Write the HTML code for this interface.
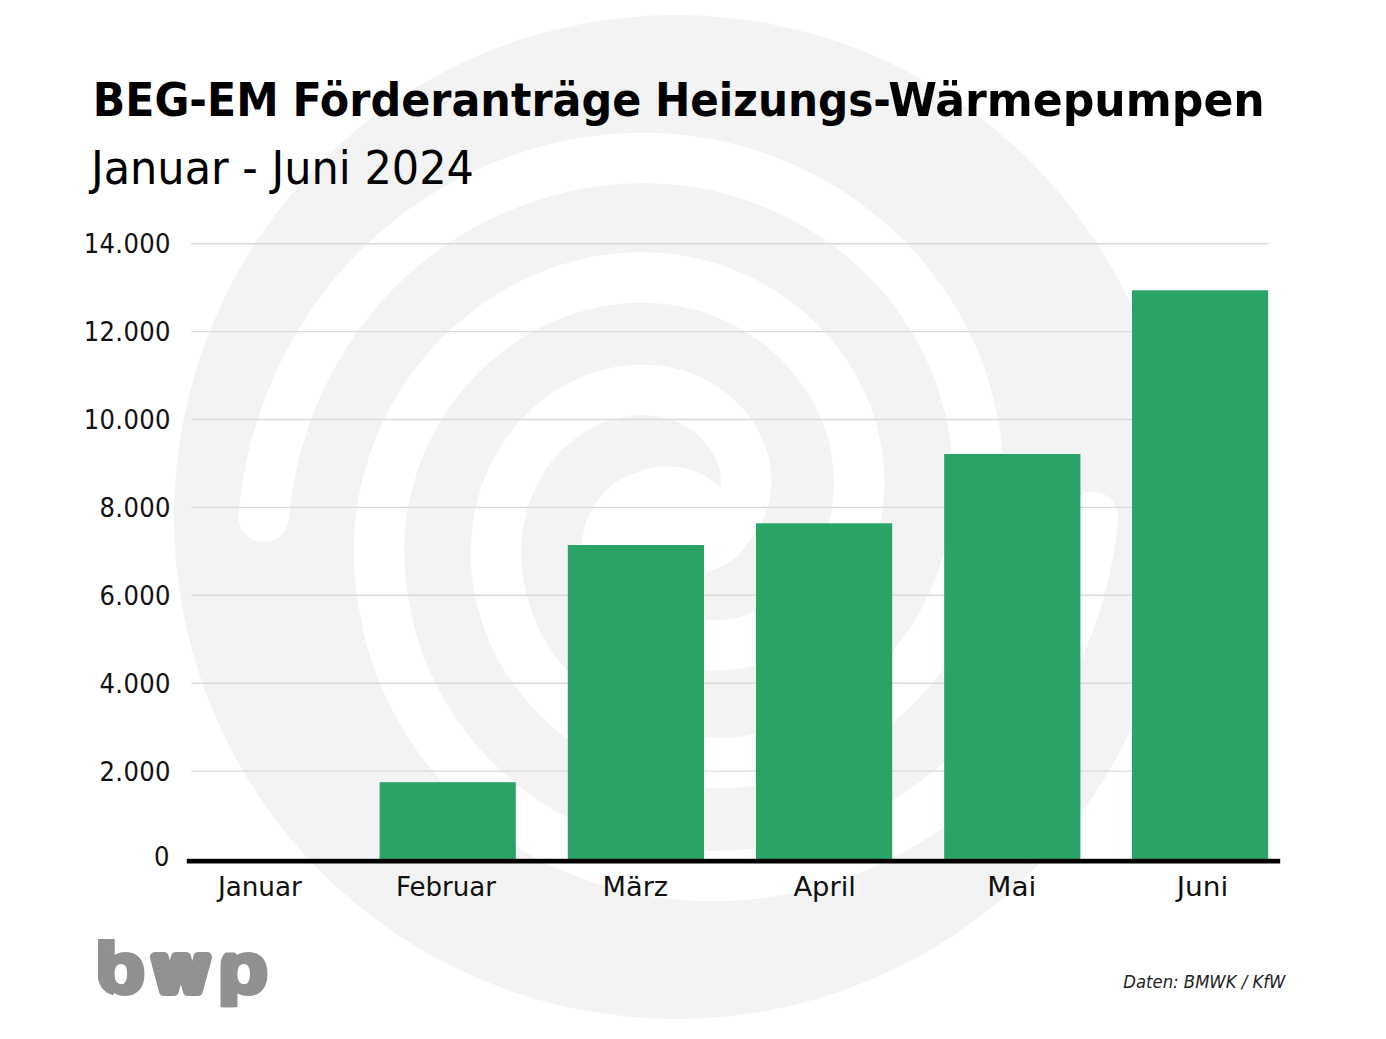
<!DOCTYPE html>
<html lang="de">
<head>
<meta charset="utf-8">
<title>BEG-EM Förderanträge Heizungs-Wärmepumpen</title>
<style>
html,body{margin:0;padding:0;background:#fff;}
body{width:1386px;height:1039px;overflow:hidden;font-family:'DejaVu Sans Condensed', 'Liberation Sans', sans-serif;}
svg{display:block;}
</style>
</head>
<body>
<svg width="1386" height="1039" viewBox="0 0 1386 1039">
<defs><clipPath id="logoclip"><path d="M97.6,939 H146 V996.2 H119 A21.4,21.4 0 0 1 97.6,974.8 Z"/><path d="M149,945 H214 V980 A16.2,16.2 0 0 1 197.8,996.2 H165.2 A16.2,16.2 0 0 1 149,980 Z"/><path d="M241.5,945 H270 V1007.3 H220.2 V966.3 A21.3,21.3 0 0 1 241.5,945 Z"/></clipPath></defs>
<rect width="1386" height="1039" fill="#fff"/>
<circle cx="676.0" cy="517.0" r="502.0" fill="#f3f3f3"/>
<g fill="none" stroke="#fff" stroke-width="50.5" stroke-linecap="round" stroke-linejoin="round">
<path d="M676.0,517.0 L676.0,518.0 L676.1,519.0 L676.2,520.0 L676.4,521.0 L676.7,522.0 L676.9,522.9 L677.3,523.9 L677.7,524.8 L678.1,525.8 L678.6,526.7 L679.1,527.5 L679.7,528.4 L680.3,529.3 L681.0,530.1 L681.7,530.9 L682.5,531.6 L683.3,532.3 L684.2,533.0 L685.1,533.7 L686.0,534.3 L687.0,534.9 L688.0,535.5 L689.0,536.0 L690.1,536.4 L691.2,536.8 L692.4,537.2 L693.5,537.5 L694.7,537.8 L696.0,538.0 L697.2,538.2 L698.5,538.3 L699.8,538.4 L701.1,538.4 L702.4,538.4 L703.8,538.3 L705.1,538.2 L706.5,538.0 L707.9,537.7 L709.3,537.4 L710.6,537.0 L712.0,536.6 L713.4,536.1 L714.8,535.5 L716.2,534.9 L717.6,534.2 L718.9,533.5 L720.3,532.7 L721.7,531.8 L723.0,530.9 L724.3,529.9 L725.6,528.9 L726.9,527.8 L728.1,526.7 L729.3,525.4 L730.5,524.2 L731.7,522.9 L732.8,521.5 L733.9,520.0 L735.0,518.5 L736.0,517.0 L737.0,515.4 L738.0,513.8 L738.9,512.0 L739.8,510.3 L740.7,508.5 L741.4,506.6 L742.2,504.7 L742.8,502.8 L743.5,500.8 L744.0,498.8 L744.5,496.7 L745.0,494.6 L745.3,492.5 L745.6,490.3 L745.9,488.1 L746.0,485.8 L746.1,483.5 L746.2,481.2 L746.1,478.9 L746.0,476.6 L745.8,474.2 L745.5,471.8 L745.2,469.4 L744.8,467.0 L744.3,464.6 L743.7,462.2 L743.0,459.8 L742.3,457.3 L741.4,454.9 L740.5,452.5 L739.5,450.1 L738.5,447.6 L737.3,445.2 L736.0,442.8 L734.7,440.5 L733.3,438.1 L731.8,435.8 L730.2,433.5 L728.6,431.2 L726.8,429.0 L725.0,426.7 L723.1,424.6 L721.1,422.4 L719.0,420.3 L716.9,418.3 L714.7,416.3 L712.4,414.3 L710.0,412.4 L707.5,410.5 L705.0,408.7 L702.4,407.0 L699.7,405.3 L697.0,403.7 L694.2,402.2 L691.3,400.7 L688.4,399.3 L685.4,398.0 L682.3,396.7 L679.2,395.6 L676.0,394.5 L672.8,393.6 L669.5,392.9 L666.2,392.2 L662.8,391.6 L659.4,391.1 L656.0,390.7 L652.5,390.4 L649.0,390.1 L645.5,390.0 L642.0,390.0 L638.4,390.1 L634.8,390.2 L631.2,390.5 L627.6,390.9 L624.0,391.4 L620.3,391.9 L616.7,392.6 L613.0,393.4 L609.4,394.3 L605.8,395.3 L602.1,396.4 L598.5,397.7 L594.9,399.0 L591.3,400.4 L587.7,402.0 L584.2,403.6 L580.7,405.4 L577.2,407.2 L573.7,409.2 L570.3,411.3 L566.9,413.5 L563.6,415.8 L560.3,418.2 L557.0,420.7 L553.8,423.3 L550.7,426.0 L547.6,428.8 L544.6,431.7 L541.6,434.7 L538.7,437.8 L535.9,440.9 L533.2,444.2 L530.5,447.6 L527.9,451.1 L525.4,454.6 L523.0,458.3 L520.7,462.0 L518.4,465.8 L516.3,469.7 L514.2,473.6 L512.3,477.7 L510.4,481.8 L508.7,486.0 L507.0,490.2 L505.5,494.5 L504.0,498.9 L502.7,503.4 L501.5,507.9 L500.5,512.4 L499.5,517.0 L498.6,521.6 L497.8,526.3 L497.2,531.1 L496.7,535.8 L496.3,540.7 L496.0,545.5 L495.9,550.4 L495.9,555.3 L496.0,560.2 L496.3,565.1 L496.7,570.1 L497.3,575.1 L497.9,580.1 L498.8,585.0 L499.7,590.0 L500.8,595.0 L502.0,600.0 L503.3,605.0 L504.7,610.0 L506.3,615.0 L508.0,620.0 L509.8,624.9 L511.8,629.9 L513.9,634.8 L516.2,639.6 L518.6,644.5 L521.2,649.2 L523.9,654.0 L526.7,658.7 L529.7,663.3 L532.8,667.9 L536.1,672.4 L539.5,676.8 L543.1,681.2 L546.8,685.4 L550.6,689.6 L554.5,693.9 L558.5,698.0 L562.6,702.0 L566.9,705.9 L571.3,709.8 L575.9,713.5 L580.5,717.1 L585.3,720.7 L590.2,724.1 L595.3,727.4 L600.4,730.5 L605.6,733.6 L611.0,736.5 L616.5,739.2 L622.0,741.9 L627.7,744.4 L633.4,746.7 L639.3,749.0 L645.2,751.0 L651.2,752.9 L657.3,754.7 L663.5,756.3 L669.7,757.7 L676.0,759.0 L682.4,760.1 L688.8,761.0 L695.3,761.8 L701.8,762.4 L708.4,762.8 L715.0,763.1 L721.6,763.1 L728.3,763.0 L734.9,762.5 L741.6,761.8 L748.2,760.9 L754.9,759.8 L761.5,758.6 L768.2,757.1 L774.8,755.5 L781.4,753.7 L787.9,751.7 L794.5,749.5 L801.0,747.2 L807.4,744.6 L813.8,741.9 L820.2,739.0 L826.5,735.9 L832.7,732.7 L838.9,729.2 L844.9,725.6 L851.0,721.8 L856.9,717.9 L862.7,713.8 L868.5,709.5 L874.1,705.0 L879.7,700.4 L885.1,695.6 L890.5,690.7 L895.7,685.6 L900.8,680.3 L905.7,674.9 L910.6,669.3 L915.3,663.6 L919.9,657.8 L924.3,651.8 L928.6,645.7 L932.7,639.4 L936.7,633.1 L940.5,626.5 L944.1,619.9 L947.6,613.2 L950.9,606.3 L954.1,599.4 L957.0,592.3 L959.8,585.1 L962.4,577.9 L964.8,570.5 L967.1,563.1 L969.1,555.6 L971.0,548.0 L972.6,540.3 L974.0,532.6 L975.3,524.8 L976.3,517.0 L977.2,509.1 L977.8,501.2 L978.2,493.2 L978.4,485.2 L978.4,477.2 L978.2,469.1 L977.8,461.1 L977.1,453.0 L976.3,444.9 L975.3,436.8 L974.0,428.7 L972.5,420.6 L970.8,412.6 L968.9,404.6 L966.8,396.6 L964.4,388.6 L961.9,380.6 L959.1,372.8 L956.1,364.9 L952.8,357.2 L949.4,349.5 L945.7,341.8 L941.9,334.3 L937.8,326.8 L933.5,319.4 L929.0,312.1 L924.3,304.9 L919.4,297.8 L914.3,290.9 L909.0,284.0 L903.5,277.3 L897.7,270.7 L891.8,264.3 L885.7,258.0 L879.4,251.9 L873.0,245.9 L866.3,240.0 L859.5,234.4 L852.6,228.9 L845.4,223.5 L838.1,218.4 L830.7,213.4 L823.1,208.6 L815.4,204.0 L807.5,199.6 L799.5,195.4 L791.3,191.4 L783.0,187.6 L774.6,184.0 L766.1,180.6 L757.5,177.5 L748.8,174.5 L740.0,171.8 L731.1,169.4 L722.1,167.1 L713.0,165.1 L703.8,163.3 L694.6,161.8 L685.3,160.5 L676.0,159.4 L666.6,158.7 L657.2,158.2 L647.7,157.9 L638.3,157.9 L628.8,158.2 L619.3,158.7 L609.7,159.5 L600.2,160.5 L590.7,161.8 L581.2,163.3 L571.8,165.1 L562.3,167.1 L552.9,169.4 L543.5,171.9 L534.2,174.7 L525.0,177.8 L515.8,181.0 L506.6,184.5 L497.5,188.2 L488.5,192.2 L479.5,196.4 L470.7,200.8 L461.9,205.5 L453.3,210.5 L444.7,215.6 L436.3,221.0 L428.1,226.7 L419.9,232.6 L411.9,238.7 L404.0,245.0 L396.3,251.6 L388.7,258.3 L381.3,265.3 L374.1,272.5 L367.0,279.9 L360.2,287.5 L353.5,295.4 L347.1,303.4 L340.8,311.6 L334.7,320.0 L328.9,328.5 L323.3,337.3 L317.9,346.2 L312.7,355.2 L307.7,364.5 L303.0,373.8 L298.5,383.3 L294.3,393.0 L290.3,402.8 L286.6,412.7 L283.1,422.7 L279.9,432.8 L276.9,443.0 L274.2,453.4 L271.8,463.8 L269.6,474.3 L267.7,484.9 L266.1,495.5 L264.8,506.2 L263.7,517.0"/>
<path d="M676.0,517.0 L676.0,516.0 L675.9,515.0 L675.8,514.1 L675.6,513.1 L675.4,512.1 L675.1,511.2 L674.7,510.2 L674.4,509.3 L673.9,508.4 L673.5,507.5 L672.9,506.6 L672.4,505.8 L671.7,504.9 L671.1,504.1 L670.4,503.4 L669.6,502.6 L668.8,501.9 L668.0,501.2 L667.1,500.6 L666.2,500.0 L665.2,499.4 L664.2,498.9 L663.2,498.4 L662.1,497.9 L661.0,497.5 L659.9,497.1 L658.8,496.8 L657.6,496.5 L656.4,496.3 L655.1,496.1 L653.9,496.0 L652.6,495.9 L651.3,495.9 L650.0,496.0 L648.7,496.0 L647.4,496.2 L646.0,496.4 L644.7,496.6 L643.3,497.0 L641.9,497.3 L640.6,497.8 L639.2,498.3 L637.8,498.8 L636.5,499.4 L635.1,500.1 L633.8,500.8 L632.4,501.6 L631.1,502.4 L629.8,503.3 L628.5,504.3 L627.2,505.3 L626.0,506.4 L624.8,507.5 L623.6,508.7 L622.4,509.9 L621.2,511.2 L620.1,512.6 L619.0,514.0 L618.0,515.5 L617.0,517.0 L616.0,518.6 L615.0,520.2 L614.0,521.9 L613.1,523.6 L612.3,525.4 L611.5,527.2 L610.7,529.1 L610.0,531.0 L609.4,533.0 L608.8,535.0 L608.3,537.1 L607.8,539.1 L607.4,541.3 L607.1,543.4 L606.9,545.6 L606.7,547.9 L606.5,550.1 L606.5,552.4 L606.5,554.7 L606.6,557.1 L606.8,559.4 L607.0,561.8 L607.4,564.2 L607.8,566.6 L608.2,569.0 L608.8,571.4 L609.4,573.8 L610.2,576.3 L611.0,578.7 L611.9,581.1 L612.8,583.6 L613.9,586.0 L615.0,588.4 L616.3,590.8 L617.6,593.1 L619.0,595.5 L620.4,597.8 L622.0,600.1 L623.6,602.4 L625.4,604.7 L627.2,606.9 L629.1,609.1 L631.0,611.2 L633.1,613.4 L635.2,615.4 L637.4,617.4 L639.7,619.4 L642.1,621.3 L644.5,623.2 L647.1,625.0 L649.7,626.8 L652.3,628.4 L655.0,630.1 L657.8,631.6 L660.7,633.1 L663.6,634.5 L666.6,635.8 L669.7,637.1 L672.8,638.3 L676.0,639.4 L679.2,640.4 L682.5,641.3 L685.9,642.2 L689.2,642.9 L692.7,643.6 L696.1,644.1 L699.6,644.6 L703.2,645.0 L706.8,645.2 L710.4,645.4 L714.1,645.5 L717.7,645.4 L721.4,645.3 L725.2,645.1 L728.9,644.7 L732.6,644.2 L736.3,643.5 L740.0,642.7 L743.7,641.8 L747.4,640.7 L751.1,639.6 L754.8,638.4 L758.5,637.0 L762.2,635.6 L765.8,634.0 L769.4,632.3 L773.0,630.6 L776.6,628.7 L780.1,626.7 L783.6,624.6 L787.0,622.3 L790.4,620.0 L793.8,617.6 L797.1,615.1 L800.3,612.4 L803.5,609.7 L806.7,606.8 L809.8,603.9 L812.8,600.8 L815.7,597.7 L818.6,594.4 L821.4,591.1 L824.1,587.7 L826.8,584.1 L829.3,580.5 L831.8,576.8 L834.2,573.0 L836.5,569.1 L838.7,565.2 L840.8,561.1 L842.8,557.0 L844.7,552.8 L846.4,548.6 L848.1,544.3 L849.7,539.9 L851.2,535.4 L852.5,530.9 L853.7,526.3 L854.8,521.7 L855.8,517.0 L856.7,512.3 L857.4,507.5 L858.0,502.7 L858.5,497.8 L858.8,492.9 L859.1,488.0 L859.2,483.1 L859.1,478.1 L858.9,473.1 L858.6,468.1 L858.1,463.0 L857.5,458.0 L856.8,453.0 L855.9,447.9 L854.9,442.9 L853.8,437.9 L852.5,432.8 L851.0,427.8 L849.4,422.8 L847.7,417.9 L845.8,412.9 L843.8,408.0 L841.7,403.1 L839.4,398.3 L837.0,393.5 L834.4,388.7 L831.7,384.0 L828.8,379.4 L825.8,374.8 L822.7,370.3 L819.5,365.8 L816.2,361.3 L812.7,357.0 L809.1,352.7 L805.3,348.5 L801.4,344.4 L797.4,340.3 L793.3,336.4 L789.0,332.5 L784.7,328.8 L780.2,325.1 L775.6,321.6 L770.8,318.2 L766.0,314.9 L761.1,311.7 L756.0,308.6 L750.8,305.6 L745.6,302.8 L740.2,300.1 L734.8,297.6 L729.3,295.2 L723.6,292.9 L717.9,290.7 L712.2,288.7 L706.3,286.9 L700.4,285.2 L694.4,283.7 L688.3,282.3 L682.2,281.1 L676.0,280.0 L669.8,279.2 L663.5,278.5 L657.2,278.0 L650.9,277.7 L644.5,277.6 L638.1,277.6 L631.7,277.8 L625.2,278.1 L618.8,278.7 L612.3,279.4 L605.9,280.3 L599.4,281.3 L593.0,282.6 L586.6,284.0 L580.1,285.6 L573.7,287.3 L567.4,289.3 L561.0,291.4 L554.8,293.7 L548.5,296.2 L542.3,298.8 L536.1,301.6 L530.0,304.6 L524.0,307.8 L518.0,311.1 L512.1,314.6 L506.3,318.3 L500.6,322.1 L494.9,326.2 L489.3,330.3 L483.8,334.6 L478.3,339.0 L472.9,343.5 L467.6,348.3 L462.5,353.1 L457.4,358.2 L452.5,363.4 L447.7,368.7 L443.0,374.2 L438.4,379.8 L434.0,385.6 L429.7,391.5 L425.6,397.6 L421.6,403.7 L417.8,410.0 L414.1,416.5 L410.6,423.0 L407.2,429.7 L404.0,436.4 L401.0,443.3 L398.2,450.3 L395.5,457.4 L393.1,464.6 L390.8,471.8 L388.6,479.2 L386.7,486.6 L385.0,494.1 L383.5,501.7 L382.1,509.3 L381.0,517.0 L380.2,524.7 L379.6,532.5 L379.2,540.4 L379.0,548.2 L379.1,556.1 L379.3,564.0 L379.7,571.9 L380.4,579.8 L381.3,587.8 L382.4,595.7 L383.7,603.6 L385.2,611.5 L386.7,619.4 L388.5,627.4 L390.4,635.3 L392.6,643.2 L395.1,651.0 L397.7,658.8 L400.5,666.6 L403.6,674.3 L406.9,681.9 L410.4,689.5 L414.1,697.0 L418.0,704.5 L422.1,711.8 L426.4,719.1 L431.0,726.3 L435.7,733.3 L440.7,740.3 L445.8,747.2 L451.1,754.0 L456.6,760.6 L462.3,767.2 L468.2,773.6 L474.3,779.9 L480.5,786.0 L487.0,792.0 L493.6,797.9 L500.4,803.6 L507.4,809.1 L514.5,814.4 L521.8,819.6 L529.3,824.6 L536.9,829.4 L544.7,834.0 L552.6,838.3 L560.8,842.3 L569.1,846.1 L577.5,849.7 L586.0,853.0 L594.6,856.1 L603.3,859.0 L612.1,861.7 L621.0,864.2 L630.0,866.4 L639.1,868.4 L648.2,870.2 L657.4,871.7 L666.7,873.0 L676.0,874.0 L685.4,874.9 L694.8,875.5 L704.2,875.9 L713.7,876.0 L723.3,875.9 L732.8,875.5 L742.3,874.9 L751.9,874.0 L761.4,872.9 L771.0,871.5 L780.5,869.8 L790.0,867.9 L799.5,865.8 L809.0,863.4 L818.4,860.7 L827.7,857.8 L837.0,854.6 L846.2,851.1 L855.4,847.4 L864.5,843.5 L873.5,839.3 L882.4,834.9 L891.2,830.2 L899.9,825.2 L908.5,820.1 L917.0,814.6 L925.4,809.0 L933.6,803.1 L941.7,797.0 L949.7,790.7 L957.4,784.1 L965.1,777.3 L972.6,770.3 L979.9,763.1 L987.0,755.6 L993.9,748.0 L1000.7,740.2 L1007.3,732.1 L1013.6,723.9 L1019.8,715.5 L1025.8,706.9 L1031.5,698.1 L1037.0,689.2 L1042.3,680.1 L1047.4,670.8 L1052.2,661.4 L1056.8,651.9 L1061.2,642.2 L1065.3,632.3 L1069.1,622.3 L1072.7,612.2 L1076.1,602.0 L1079.1,591.7 L1081.9,581.3 L1084.5,570.8 L1086.7,560.2 L1088.7,549.5 L1090.4,538.7 L1091.9,527.9 L1093.0,517.0"/>
</g>
<path d="M717.5,485.0 L715.3,482.9 L712.9,481.0 L710.5,479.2 L707.9,477.6 L705.4,476.0 L702.9,474.6 L700.2,473.3 L697.5,472.1 L694.8,471.2 L692.0,470.4 L689.3,469.4 L686.5,468.6 L683.7,467.9 L680.9,467.4 L678.0,467.0 L675.0,466.8 L672.1,466.7 L669.1,466.4 L666.0,466.3 L662.9,466.3 L659.8,466.6 L656.7,467.0 L653.5,467.7 L650.2,468.2 L646.9,468.9 L643.6,469.9 L640.2,471.0 L637.0,472.4 L633.7,474.1 L630.4,475.8 L627.1,477.8 L624.0,480.0 L620.9,482.5 L617.9,485.2 L614.8,488.0 L611.7,491.0 L608.7,494.2 L605.9,497.8 L603.3,501.6 L600.0,530.0 L620.0,560.0 L660.0,580.0 L685.9,573.1 L688.0,573.3 L690.2,573.4 L692.3,573.4 L694.5,573.3 L696.7,573.2 L698.9,572.9 L701.2,572.6 L703.4,572.2 L705.6,571.6 L707.8,571.0 L710.1,570.4 L712.5,569.8 L714.8,569.1 L717.1,568.3 L719.4,567.4 L721.7,566.4 L724.0,565.2 L726.3,564.0 L728.5,562.7 L730.7,561.2 L732.7,559.6 L734.8,557.9 L736.7,556.2 L738.7,554.3 L740.5,552.3 L742.3,550.3 L744.1,548.2 L745.7,546.0 L747.4,543.7 L749.1,541.4 L750.7,539.0 L752.3,536.5 L753.7,534.0 L755.1,531.3 L756.3,528.6 L757.4,525.8 L758.4,522.9 L759.2,520.0 L760.0,517.0 L752.0,500.0Z" fill="#fff"/>
<g stroke="#dadada" stroke-width="1.4">
<line x1="191.3" y1="243.7" x2="1268.5" y2="243.7"/>
<line x1="191.3" y1="331.6" x2="1268.5" y2="331.6"/>
<line x1="191.3" y1="419.5" x2="1268.5" y2="419.5"/>
<line x1="191.3" y1="507.4" x2="1268.5" y2="507.4"/>
<line x1="191.3" y1="595.3" x2="1268.5" y2="595.3"/>
<line x1="191.3" y1="683.2" x2="1268.5" y2="683.2"/>
<line x1="191.3" y1="771.1" x2="1268.5" y2="771.1"/>
</g>
<g fill="#29a466">
<rect x="379.6" y="782.2" width="136.2" height="77.6"/>
<rect x="567.8" y="545.0" width="136.2" height="314.8"/>
<rect x="756.0" y="523.3" width="136.2" height="336.5"/>
<rect x="944.2" y="454.0" width="136.2" height="405.8"/>
<rect x="1132.0" y="290.3" width="136.2" height="569.5"/>
</g>
<rect x="186.8" y="858.8" width="1093.4" height="4.7" fill="#000"/>
<g font-family="'DejaVu Sans Condensed', 'Liberation Sans', sans-serif" fill="#000">
<text y="116.2" font-size="47" font-weight="700"><tspan x="92.8" textLength="185.8" lengthAdjust="spacingAndGlyphs">BEG-EM</tspan> <tspan x="292.5" textLength="348.8" lengthAdjust="spacingAndGlyphs">Förderanträge</tspan> <tspan x="654.9" textLength="236" lengthAdjust="spacingAndGlyphs">Heizungs-</tspan><tspan x="888.3" textLength="376.5" lengthAdjust="spacingAndGlyphs">Wärmepumpen</tspan></text>
<text x="91" y="184.2" font-size="47" textLength="383" lengthAdjust="spacingAndGlyphs">Januar - Juni 2024</text>
<g font-size="27" text-anchor="end" fill="#111" letter-spacing="0.35">
<text x="170.8" y="253.4">14.000</text>
<text x="170.8" y="341.3">12.000</text>
<text x="170.8" y="429.2">10.000</text>
<text x="170.8" y="517.1">8.000</text>
<text x="170.8" y="605.0">6.000</text>
<text x="170.8" y="692.9">4.000</text>
<text x="170.8" y="780.8">2.000</text>
<text x="169.9" y="866.4">0</text>
</g>
<g font-size="26.6" fill="#111">
<text x="217.9" y="896" textLength="84" lengthAdjust="spacingAndGlyphs">Januar</text>
<text x="396.0" y="896" textLength="100" lengthAdjust="spacingAndGlyphs">Februar</text>
<text x="602.6" y="896" textLength="65.5" lengthAdjust="spacingAndGlyphs">März</text>
<text x="793.4" y="896" textLength="62.5" lengthAdjust="spacingAndGlyphs">April</text>
<text x="987.3" y="896" textLength="49" lengthAdjust="spacingAndGlyphs">Mai</text>
<text x="1176.8" y="896" textLength="51.5" lengthAdjust="spacingAndGlyphs">Juni</text>
</g>
<text x="1123.3" y="988.2" font-size="18.2" font-style="italic" textLength="162" lengthAdjust="spacingAndGlyphs" fill="#222">Daten: BMWK / KfW</text>
</g>
<g clip-path="url(#logoclip)"><text font-family="'Liberation Sans', sans-serif" font-weight="700" fill="#919191" stroke="#919191" stroke-linejoin="round"><tspan x="95.0" y="993.4" font-size="73" stroke-width="5.0" textLength="50" lengthAdjust="spacingAndGlyphs">b</tspan><tspan x="155.2" y="991" font-size="64" stroke-width="10" textLength="51.5" lengthAdjust="spacingAndGlyphs">w</tspan><tspan x="217.6" y="993.4" font-size="73" stroke-width="5.0" textLength="50.5" lengthAdjust="spacingAndGlyphs">p</tspan></text></g>
</svg>
</body>
</html>
